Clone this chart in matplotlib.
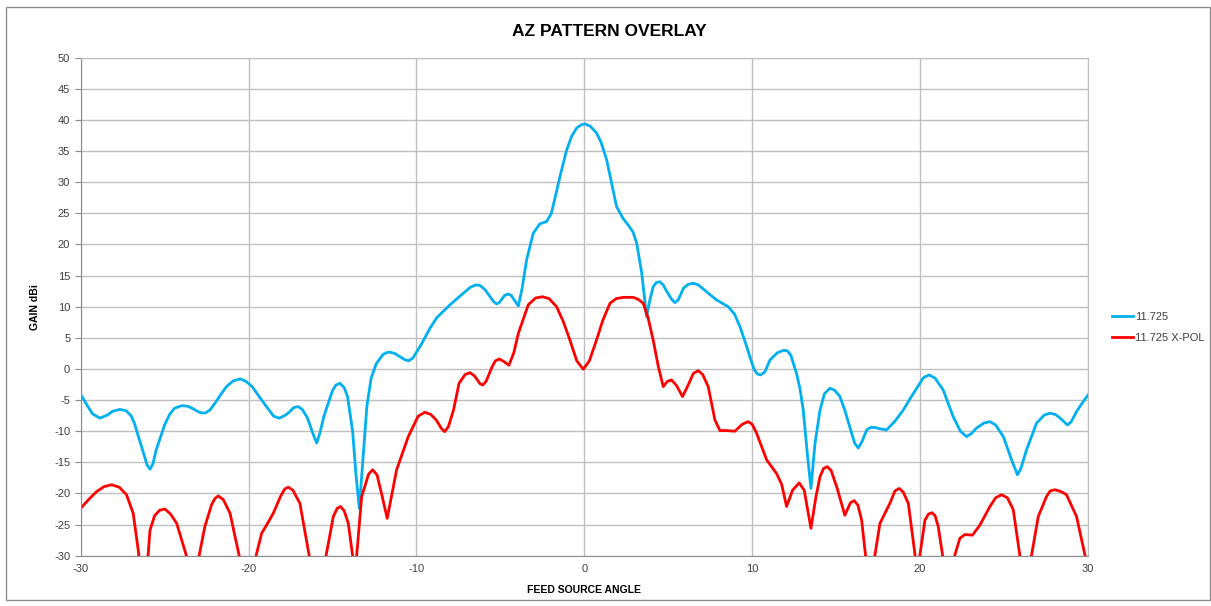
import matplotlib
matplotlib.use("Agg")
import matplotlib.pyplot as plt
from matplotlib.patches import Rectangle

plt.rcParams['font.family'] = ['Liberation Sans', 'DejaVu Sans']
plt.rcParams['axes.unicode_minus'] = False

# 11.725 co-pol pattern, (angle deg, gain dBi)
blue_pts = [
    (-30.0, -4.1), (-29.6, -5.9), (-29.3, -7.2), (-28.85, -7.9), (-28.4, -7.4), (-28.1, -6.8),
    (-27.66, -6.5), (-27.3, -6.7), (-27.0, -7.5), (-26.8, -8.7), (-26.6, -10.5), (-26.2, -14.0),
    (-26.05, -15.4), (-25.87, -16.1), (-25.7, -15.3), (-25.5, -13.0), (-25.0, -9.0), (-24.7, -7.3),
    (-24.4, -6.3), (-23.98, -5.9), (-23.6, -6.0), (-23.3, -6.4), (-22.9, -7.0), (-22.6, -7.1),
    (-22.3, -6.6), (-22.0, -5.5), (-21.6, -3.9), (-21.3, -2.8), (-20.9, -1.9), (-20.5, -1.6),
    (-20.15, -2.0), (-19.8, -2.8), (-19.4, -4.3), (-19.0, -5.8), (-18.5, -7.6), (-18.17, -7.9),
    (-17.85, -7.5), (-17.6, -7.0), (-17.3, -6.2), (-17.04, -6.05), (-16.8, -6.5), (-16.5, -7.8),
    (-16.15, -10.5), (-15.94, -11.9), (-15.75, -10.3), (-15.5, -7.5), (-15.0, -3.5), (-14.8, -2.6),
    (-14.56, -2.3), (-14.3, -3.0), (-14.1, -4.5), (-13.8, -10.0), (-13.6, -17.0), (-13.4, -22.4),
    (-13.2, -15.0), (-12.95, -6.0), (-12.7, -1.5), (-12.4, 0.8), (-12.0, 2.3), (-11.8, 2.6),
    (-11.6, 2.7), (-11.3, 2.5), (-11.0, 2.0), (-10.7, 1.5), (-10.46, 1.3), (-10.2, 1.8),
    (-9.7, 4.0), (-9.2, 6.5), (-8.8, 8.2), (-8.0, 10.3), (-7.21, 12.16), (-6.8, 13.1),
    (-6.46, 13.5), (-6.2, 13.4), (-5.9, 12.7), (-5.62, 11.62), (-5.4, 10.8), (-5.22, 10.44),
    (-5.05, 10.7), (-4.75, 11.8), (-4.53, 12.05), (-4.35, 11.8), (-4.15, 11.0), (-3.93, 10.12),
    (-3.7, 13.0), (-3.44, 17.5), (-3.04, 21.8), (-2.65, 23.3), (-2.25, 23.67), (-1.96, 25.0),
    (-1.7, 28.0), (-1.45, 30.9), (-1.05, 35.2), (-0.75, 37.4), (-0.46, 38.7), (-0.2, 39.2),
    (0.04, 39.36), (0.35, 39.0), (0.73, 37.9), (1.0, 36.4), (1.33, 33.6), (1.6, 30.2),
    (1.92, 26.1), (2.3, 24.2), (2.62, 23.1), (2.9, 22.0), (3.12, 20.2), (3.42, 15.4),
    (3.71, 8.4), (3.9, 11.0), (4.1, 13.2), (4.3, 13.9), (4.5, 14.0), (4.7, 13.5),
    (4.9, 12.5), (5.2, 11.2), (5.4, 10.66), (5.6, 11.1), (5.9, 12.96), (6.2, 13.6),
    (6.49, 13.76), (6.8, 13.5), (7.28, 12.4), (7.88, 11.08), (8.57, 10.0), (8.95, 8.8),
    (9.27, 6.8), (9.6, 4.2), (9.86, 1.98), (10.1, 0.0), (10.3, -0.8), (10.5, -0.96),
    (10.75, -0.5), (11.06, 1.45), (11.5, 2.6), (11.88, 3.0), (12.1, 2.9), (12.3, 2.2),
    (12.64, -0.7), (12.85, -3.2), (13.04, -6.6), (13.28, -13.5), (13.5, -19.2), (13.74, -12.0),
    (14.04, -6.6), (14.3, -4.0), (14.63, -3.1), (14.9, -3.4), (15.22, -4.4), (15.5, -6.5),
    (15.81, -9.3), (16.1, -11.9), (16.32, -12.7), (16.55, -11.6), (16.82, -9.8), (17.05, -9.4),
    (17.31, -9.4), (17.6, -9.6), (18.0, -9.8), (18.5, -8.4), (19.0, -6.6), (19.4, -4.8),
    (19.8, -3.1), (20.2, -1.4), (20.54, -0.96), (20.9, -1.5), (21.38, -3.4), (21.97, -7.66),
    (22.4, -10.0), (22.77, -10.87), (23.05, -10.4), (23.36, -9.5), (23.8, -8.7), (24.16, -8.46),
    (24.5, -9.0), (24.96, -10.87), (25.45, -14.6), (25.8, -17.0), (26.0, -16.0), (26.34, -13.0),
    (26.94, -8.7), (27.4, -7.4), (27.73, -7.1), (28.05, -7.3), (28.3, -7.8), (28.78, -9.0),
    (29.0, -8.5), (29.32, -6.85), (29.7, -5.3), (30.0, -4.2),
]

# 11.725 X-POL pattern (dips below -30 run off the bottom of the chart)
red_pts = [
    (-30.0, -22.4), (-29.5, -20.9), (-29.05, -19.7), (-28.6, -18.9), (-28.16, -18.6), (-27.7, -19.0),
    (-27.27, -20.2), (-26.87, -23.2), (-26.57, -29.1), (-26.3, -36.0), (-26.0, -30.5), (-25.87, -25.9),
    (-25.6, -23.6), (-25.3, -22.7), (-24.98, -22.5), (-24.65, -23.3), (-24.28, -24.8), (-23.69, -30.1),
    (-23.3, -36.0), (-22.95, -30.1), (-22.6, -25.3), (-22.2, -21.8), (-22.0, -20.8), (-21.8, -20.4),
    (-21.5, -21.0), (-21.1, -23.2), (-20.55, -30.1), (-20.05, -36.0), (-19.56, -30.1), (-19.22, -26.4),
    (-18.8, -24.5), (-18.53, -23.2), (-18.1, -20.5), (-17.85, -19.3), (-17.63, -19.0), (-17.35, -19.5),
    (-16.94, -21.6), (-16.38, -30.1), (-15.9, -36.0), (-15.39, -30.1), (-14.95, -23.7), (-14.72, -22.4),
    (-14.52, -22.1), (-14.3, -22.8), (-14.06, -24.8), (-13.8, -30.0), (-13.68, -34.0), (-13.56, -30.0),
    (-13.26, -20.5), (-12.85, -16.9), (-12.61, -16.2), (-12.35, -17.0), (-12.08, -20.0), (-11.74, -24.0),
    (-11.18, -16.2), (-10.49, -10.9), (-9.9, -7.6), (-9.5, -6.96), (-9.15, -7.3), (-8.82, -8.2),
    (-8.5, -9.6), (-8.32, -10.07), (-8.1, -9.3), (-7.8, -6.7), (-7.46, -2.3), (-7.1, -0.9),
    (-6.81, -0.6), (-6.55, -1.1), (-6.2, -2.4), (-6.04, -2.57), (-5.85, -2.0), (-5.5, 0.3),
    (-5.3, 1.3), (-5.06, 1.6), (-4.8, 1.2), (-4.49, 0.59), (-4.2, 2.6), (-3.93, 5.7),
    (-3.34, 10.3), (-2.9, 11.4), (-2.49, 11.6), (-2.1, 11.3), (-1.65, 10.0), (-1.25, 7.6),
    (-0.86, 4.66), (-0.45, 1.3), (-0.06, -0.05), (0.3, 1.3), (0.73, 4.66), (1.1, 7.8),
    (1.53, 10.55), (1.9, 11.3), (2.32, 11.5), (2.92, 11.5), (3.2, 11.2), (3.51, 10.55),
    (3.8, 8.2), (4.1, 4.66), (4.4, 0.5), (4.7, -2.84), (4.95, -2.0), (5.2, -1.77),
    (5.5, -2.7), (5.85, -4.44), (6.15, -2.8), (6.5, -0.7), (6.79, -0.27), (7.05, -0.9),
    (7.38, -2.84), (7.78, -8.2), (8.08, -9.9), (8.47, -9.9), (8.97, -10.0), (9.4, -8.9),
    (9.76, -8.46), (10.0, -8.9), (10.26, -10.3), (10.86, -14.6), (11.45, -16.8), (11.75, -18.5),
    (12.05, -22.1), (12.4, -19.5), (12.8, -18.3), (13.1, -19.5), (13.5, -25.6), (13.8, -20.5),
    (14.04, -17.3), (14.25, -16.0), (14.47, -15.7), (14.7, -16.3), (15.03, -18.9), (15.52, -23.5),
    (15.85, -21.5), (16.08, -21.15), (16.3, -21.9), (16.52, -24.3), (16.75, -29.9), (17.0, -36.0),
    (17.31, -29.9), (17.61, -24.8), (18.2, -21.6), (18.5, -19.6), (18.76, -19.2), (19.0, -19.8),
    (19.3, -21.6), (19.7, -29.9), (19.85, -33.0), (19.99, -29.9), (20.29, -24.3), (20.5, -23.3),
    (20.72, -23.1), (20.9, -23.6), (21.08, -25.3), (21.34, -29.9), (21.7, -36.0), (22.07, -29.9),
    (22.37, -27.2), (22.67, -26.6), (23.12, -26.7), (23.56, -25.1), (24.16, -22.1), (24.5, -20.7),
    (24.85, -20.2), (25.2, -20.7), (25.55, -22.6), (25.94, -29.9), (26.3, -36.0), (26.64, -29.9),
    (27.04, -23.7), (27.53, -20.5), (27.75, -19.6), (28.03, -19.4), (28.4, -19.7), (28.72, -20.2),
    (29.32, -23.7), (29.82, -29.9), (30.0, -31.5),
]

blue_x, blue_y = zip(*blue_pts)
red_x, red_y = zip(*red_pts)

series_labels = ['11.725', '11.725 X-POL']
series_colors = ['#00B0F0', '#FF0000']

fig = plt.figure(figsize=(12.11, 6.06), dpi=100)
ax = fig.add_axes([0.0666, 0.0830, 0.8318, 0.8218])

# chart border
fig.patches.append(Rectangle((0.005, 0.01), 0.994, 0.978, transform=fig.transFigure,
                             fill=False, edgecolor='#8c8c8c', linewidth=1.0))

ax.plot(blue_x, blue_y, color=series_colors[0], linewidth=2.0, label=series_labels[0],
        solid_joinstyle='round')
ax.plot(red_x, red_y, color=series_colors[1], linewidth=2.0, label=series_labels[1],
        solid_joinstyle='round')

ax.set_xlim(-30, 30)
ax.set_ylim(-30, 50)
ax.set_xticks(range(-30, 31, 10))
ax.set_yticks(range(-30, 51, 5))
ax.grid(True, color='#bfbfbf', linewidth=1.0)
ax.set_axisbelow(True)
for s in ax.spines.values():
    s.set_color('#bfbfbf')
ax.spines['left'].set_color('#8c8c8c')
ax.spines['bottom'].set_color('#8c8c8c')
ax.tick_params(axis='both', colors='#8c8c8c', labelcolor='#404040', labelsize=8,
               length=4, direction='out')
ax.tick_params(axis='x', length=0, pad=6)

fig.text(0.5035, 0.948, 'AZ PATTERN OVERLAY', ha='center', va='center',
         fontsize=12.5, fontweight='bold', color='#000000')
ax.set_xlabel('FEED SOURCE ANGLE', fontsize=7.5, fontweight='bold', labelpad=8)
ax.set_ylabel('GAIN dBi', fontsize=7.5, fontweight='bold', labelpad=10)

ax.legend(loc='center left', bbox_to_anchor=(1.014, 0.459), frameon=False,
          fontsize=8, handlelength=1.9, handletextpad=0.2, labelspacing=1.0,
          labelcolor='#404040')

fig.savefig('out.png', dpi=100)
